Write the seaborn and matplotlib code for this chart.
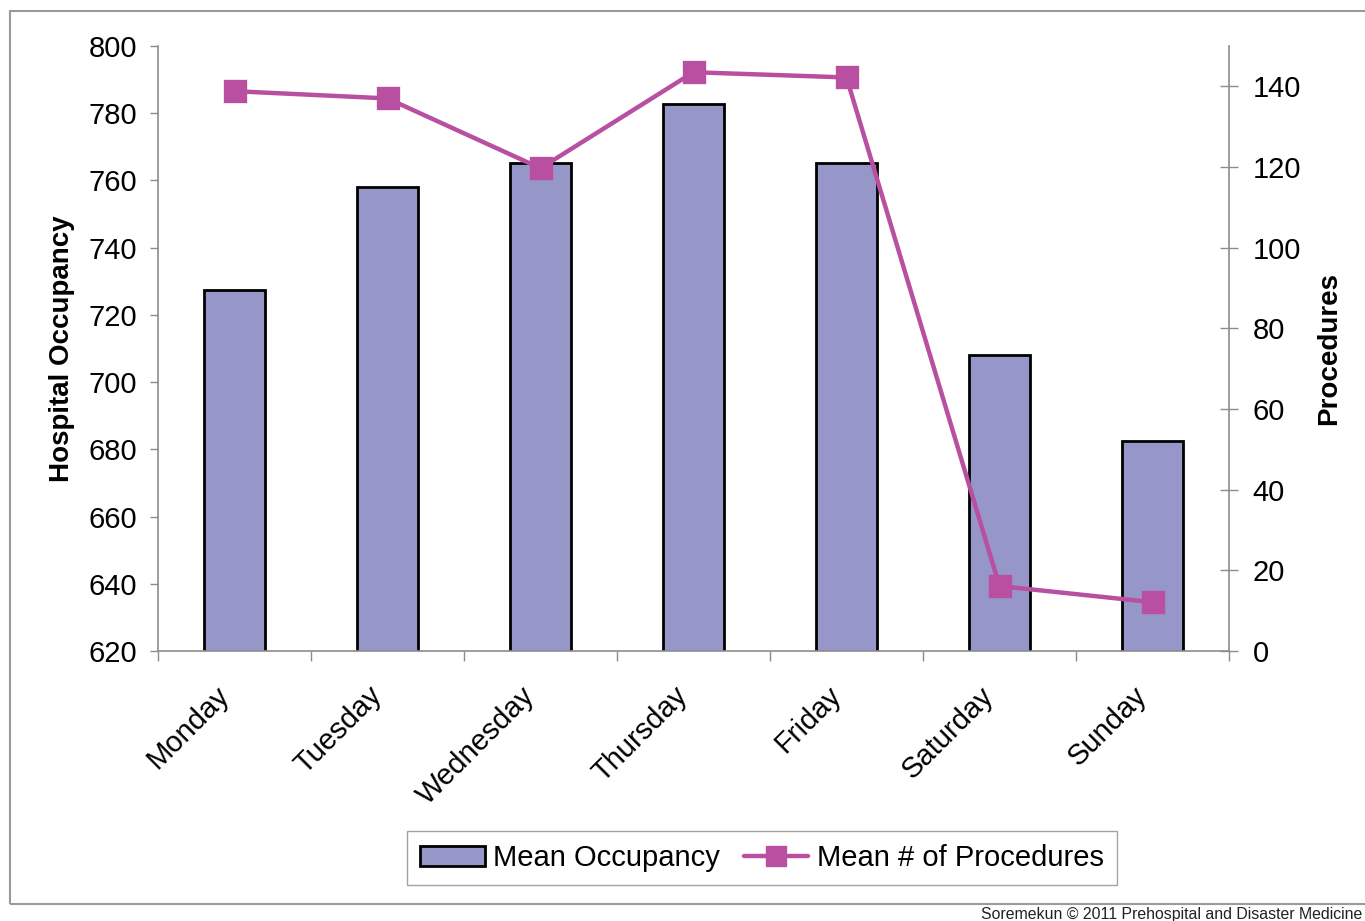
import matplotlib
matplotlib.use("Agg")
import matplotlib.pyplot as plt
from matplotlib.patches import Rectangle, Patch
from matplotlib.lines import Line2D
from matplotlib.ticker import FixedLocator
import numpy as np
import pandas as pd
import seaborn as sns

days = ["Monday", "Tuesday", "Wednesday", "Thursday", "Friday", "Saturday", "Sunday"]
mean_occupancy = [727.4, 758.0, 765.2, 782.7, 765.1, 708.0, 682.5]
mean_procedures = [138.8, 137.0, 119.7, 143.5, 142.2, 16.1, 12.1]
occupancy_ticks = [620, 640, 660, 680, 700, 720, 740, 760, 780, 800]
procedure_ticks = [0, 20, 40, 60, 80, 100, 120, 140]

bar_color = "#9696C8"
line_color = "#B94FA0"
axis_gray = "#8C8C8C"

sns.set_style("white")
plt.rcParams["font.family"] = ["Liberation Sans", "DejaVu Sans"]
plt.rcParams["text.color"] = "black"
plt.rcParams["xtick.color"] = "black"
plt.rcParams["ytick.color"] = "black"
plt.rcParams["axes.labelcolor"] = "black"

df = pd.DataFrame({"day": days, "occupancy": mean_occupancy, "procedures": mean_procedures})

fig = plt.figure(figsize=(13.65, 9.21), dpi=100)
ax = fig.add_axes([158 / 1365, 1 - 651 / 921, (1229 - 158) / 1365, (651 - 46) / 921])

sns.barplot(data=df, x="day", y="occupancy", order=days, color=bar_color,
            width=0.405, edgecolor="black", linewidth=2, saturation=1, ax=ax)

ax2 = ax.twinx()
sns.pointplot(data=df, x="day", y="procedures", order=days, color=line_color,
              markers="s", markersize=15, linewidth=3.2, errorbar=None, ax=ax2)
for ln in ax2.lines:
    ln.set_markeredgecolor(line_color)

ax.set_xlim(-0.5, 6.5)
ax.set_ylim(620, 800)
ax.set_yticks(occupancy_ticks)
ax2.set_ylim(0, 150)
ax2.set_yticks(procedure_ticks)

# category labels at centres (anchored by their lower-right corner so they sit
# left of the centre), tick marks at the category boundaries
ax.set_xticks(range(len(days)))
ax.set_xticklabels(days, rotation=45, ha="right", va="bottom", rotation_mode="anchor",
                   fontsize=21)
ax.xaxis.set_minor_locator(FixedLocator(np.arange(-0.5, 7, 1.0)))
ax.tick_params(axis="x", which="major", length=0, pad=36, labelcolor="black")
ax.tick_params(axis="x", which="minor", length=7, width=1, color=axis_gray,
               direction="out", bottom=True)
ax.tick_params(axis="y", which="major", length=6, width=1, color=axis_gray, direction="out",
               labelsize=21, pad=9, left=True, labelcolor="black")
ax2.tick_params(axis="y", which="major", length=13, width=1, color=axis_gray,
                direction="inout", labelsize=21, pad=10.5, right=True, labelcolor="black")

ax.set_xlabel("")
ax2.set_xlabel("")
ax.set_ylabel("Hospital Occupancy", fontsize=20, fontweight="bold", labelpad=10, color="black")
ax2.set_ylabel("Procedures", fontsize=20, fontweight="bold", labelpad=11, color="black")

for a in (ax, ax2):
    a.spines["top"].set_visible(False)
    for s in ("left", "right", "bottom"):
        a.spines[s].set_color(axis_gray)
        a.spines[s].set_linewidth(1.2)
ax.spines["right"].set_visible(False)
ax2.spines["left"].set_visible(False)
ax2.spines["bottom"].set_visible(False)

handles = [
    Patch(facecolor=bar_color, edgecolor="black", linewidth=2),
    Line2D([0], [0], color=line_color, lw=3.2, marker="s", markersize=15,
           markeredgecolor=line_color),
]
leg = fig.legend(handles, ["Mean Occupancy", "Mean # of Procedures"], loc="center",
                 bbox_to_anchor=(762 / 1365, 1 - 858 / 921), ncol=2, fontsize=21,
                 frameon=True, fancybox=False, edgecolor=axis_gray, handlelength=2.2,
                 handletextpad=0.3, columnspacing=0.8, borderpad=0.45)
leg.get_frame().set_linewidth(1)

# outer chart frame
fig.patches.append(Rectangle((10 / 1365, 1 - 904 / 921), 1.2, 893 / 921,
                             transform=fig.transFigure, fill=False,
                             edgecolor="#9A9A9A", linewidth=1.5))

fig.text(1362 / 1365, 1 - 914 / 921, "Soremekun \u00a9 2011 Prehospital and Disaster Medicine",
         fontsize=11.4, color="#222222", ha="right", va="center")

fig.savefig("out.png", dpi=100)
